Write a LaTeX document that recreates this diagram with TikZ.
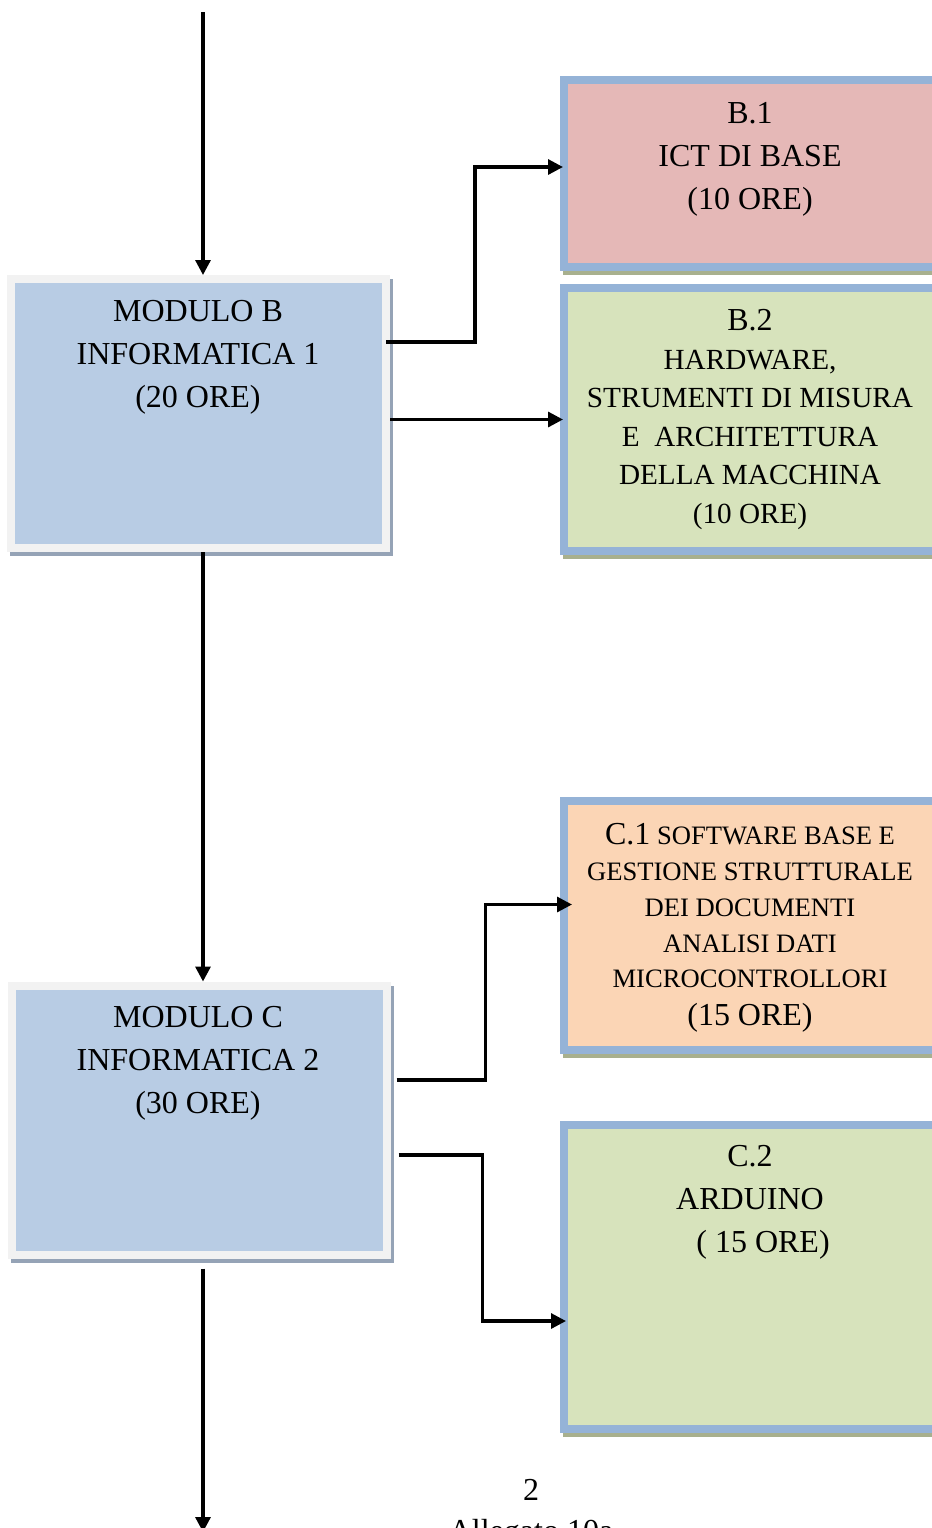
\documentclass[tikz,border=0pt]{standalone}
\usepackage{fontspec}
\setmainfont{Liberation Serif}
\usetikzlibrary{positioning, calc, arrows.meta, backgrounds}

\definecolor{modFill}{HTML}{B8CCE4}
\definecolor{modFrame}{HTML}{F2F2F2}
\definecolor{modShadow}{HTML}{95A3B6}
\definecolor{unitFrame}{HTML}{95B3D7}
\definecolor{unitShadow}{HTML}{A8B08E}
\definecolor{redFill}{HTML}{E5B8B7}
\definecolor{greenFill}{HTML}{D7E3BC}
\definecolor{orangeFill}{HTML}{FBD5B5}

\tikzstyle{moduleNode}=[draw=modFrame, fill=modFill, line width=4pt, minimum width=187.5pt, minimum height=134.5pt, inner sep=0pt]
\tikzstyle{unitNode}=[draw=unitFrame, line width=4pt, minimum width=216pt, inner sep=0pt]
\tikzstyle{boxText}=[align=center, anchor=north, inner sep=0pt, font=\fontsize{16}{21.5}\selectfont]
\tikzstyle{flow}=[-{Triangle[length=7.5pt,width=7.5pt]}, line width=1.6pt]

\begin{document}
\begin{tikzpicture}[x=0.5pt, y=-0.5pt]
        \useasboundingbox (0,0) rectangle (932,1528);
        \clip (0,0) rectangle (932,1528);

        \node[moduleNode] (mb) at (198.5, 413.5) {};
        \node[moduleNode] (mc) at (199, 1120) {};

        \node[unitNode, fill=redFill, minimum height=93.5pt] (b1) at (780, 173.5) {};
        \node[unitNode, fill=greenFill, minimum height=131.5pt] (b2) at (780, 419.5) {};
        \node[unitNode, fill=orangeFill, minimum height=124.5pt] (c1) at (780, 925.5) {};
        \node[unitNode, fill=greenFill, minimum height=152pt] (c2) at (780, 1277) {};

        \begin{pgfonlayer}{background}
            \foreach \n in {mb, mc}
                \fill[modShadow] ($(\n.north west)+(3,4)$) rectangle ($(\n.south east)+(3,4)$);
            \foreach \n in {b1, b2, c1, c2}
                \fill[unitShadow] ($(\n.north west)+(3,4)$) rectangle ($(\n.south east)+(3,4)$);
        \end{pgfonlayer}

        \node[boxText] (mbText) at (198, 300) {MODULO B\\INFORMATICA 1\\(20 ORE)};
        \node[boxText] (mcText) at (198, 1006) {MODULO C\\INFORMATICA 2\\(30 ORE)};

        \node[boxText] (b1Text) at (750, 102) {B.1\\ICT DI BASE\\(10 ORE)};
        \node[boxText, font=\fontsize{14.6}{19.3}\selectfont] (b2Text) at (750, 309)
            {{\fontsize{16}{19.3}\selectfont B.2}\\HARDWARE,\\STRUMENTI DI MISURA\\E\ \ ARCHITETTURA\\DELLA MACCHINA\\(10 ORE)};
        \node[boxText, font=\fontsize{13.3}{17.9}\selectfont] (c1Text) at (750, 823)
            {{\fontsize{16}{17.9}\selectfont C.1} SOFTWARE BASE E\\GESTIONE STRUTTURALE\\DEI DOCUMENTI\\ANALISI DATI\\MICROCONTROLLORI\\[1pt]{\fontsize{16}{17.9}\selectfont (15 ORE)}};
        \node[boxText] (c2Text) at (750, 1145) {C.2\\ARDUINO\\\hspace*{13pt}( 15 ORE)};

        \node[font=\fontsize{16}{19}\selectfont, anchor=base] (pageNum) at (531, 1500) {2};
        \node[font=\fontsize{16}{19}\selectfont, anchor=base] (annex) at (531, 1541) {Allegato 10a};

        \coordinate (top) at (203, 12);
        \coordinate (bottom) at (203, 1532);

        \draw[flow] (top) -- (top |- mb.north);
        \draw[flow] ([xshift=-2pt, yshift=35.75pt]mb.east) -- ++(89, 0) |- ([xshift=1.5pt, yshift=3.25pt]b1.west);
        \draw[flow] (mb.east |- b2.west) -- ([xshift=1.5pt]b2.west);
        \draw[flow] (top |- mb.south) -- (top |- mc.north);

        \draw[flow] ([xshift=3pt, yshift=20pt]mc.east) -- ++(89, 0) |- ([xshift=6pt, yshift=10.5pt]c1.west);
        \draw[flow] ([xshift=4pt, yshift=-17.5pt]mc.east) -- ++(84, 0) |- ([xshift=3pt, yshift=-22pt]c2.west);
        \draw[flow] ([yshift=-5pt]top |- mc.south) -- (bottom);
\end{tikzpicture}
\end{document}
